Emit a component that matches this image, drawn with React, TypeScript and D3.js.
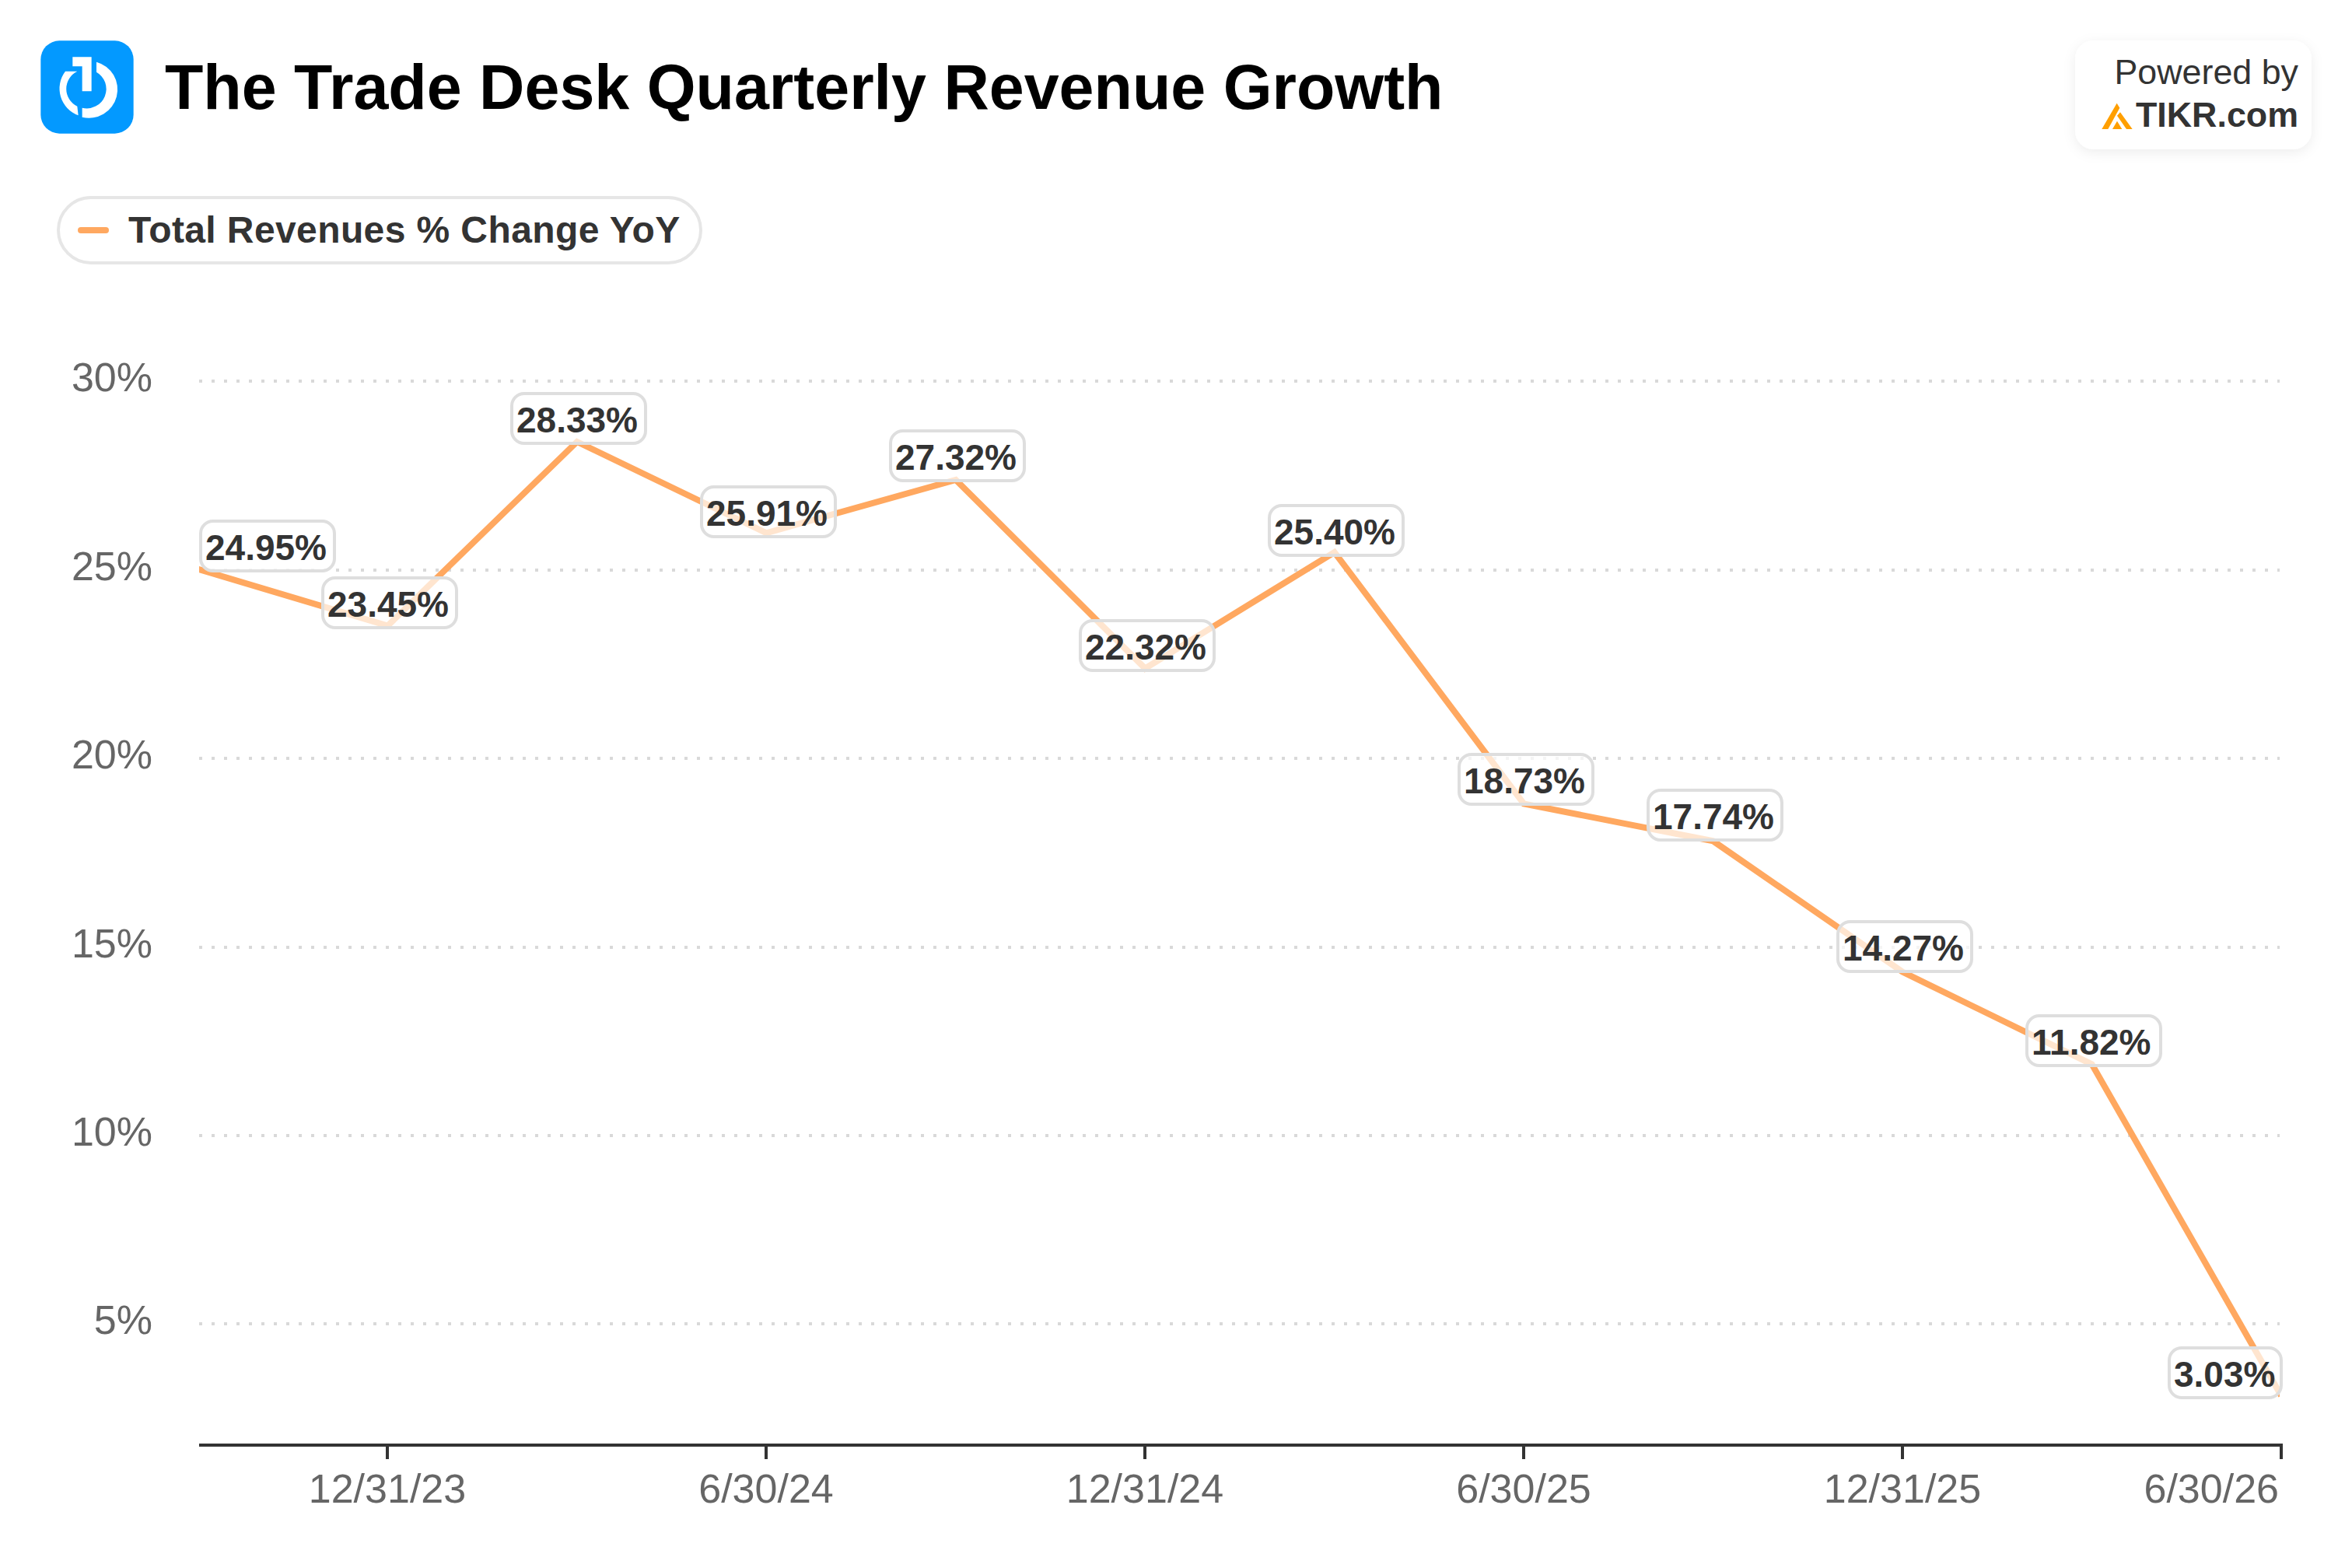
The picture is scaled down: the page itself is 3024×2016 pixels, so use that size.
import React from "react";
import * as d3 from "d3";

const title = "The Trade Desk Quarterly Revenue Growth";
const seriesName = "Total Revenues % Change YoY";
const periods = ["9/30/23","12/31/23","3/31/24","6/30/24","9/30/24","12/31/24","3/31/25","6/30/25","9/30/25","12/31/25","3/31/26","6/30/26"];
const growth = [24.95,23.45,28.33,25.91,27.32,22.32,25.40,18.73,17.74,14.27,11.82,3.03];
const xTicks = ["12/31/23","6/30/24","12/31/24","6/30/25","12/31/25","6/30/26"];
const yTicks = [5,10,15,20,25,30];
const labelNudge = [0,0,0,3,-1,1,2,-1,-3,-3,0,0];

const FONT = '"Liberation Sans", Arial, sans-serif';
const ORANGE = "#ffa860";

const x = d3.scalePoint<string>().domain(periods).range([255, 2933]);
const yGrid = d3.scaleLinear().domain([5, 30]).range([1702, 490]);
const yLine = d3.scaleLinear().domain([5, 30]).range([1699, 487]);
const lineGen = d3.line<number>().x((_, i) => x(periods[i])!).y((d) => yLine(d));

function Logo() {
  return (
    <g transform="translate(40,40) scale(0.3333)">
      <rect x="37" y="37" width="358" height="358" rx="72" fill="#0399ff" />
      <path fill="#fff" d="M160 100H233V232H197V136H160Z" />
      <path fill="#fff" d="M252 119A110 110 0 0 1 197 332V296A75 75 0 0 0 252 158Z" />
      <path fill="#fff" d="M178 155L132 155A110 110 0 0 0 182 325L178 290A75 75 0 0 1 178 155Z" />
    </g>
  );
}

function TikrMark() {
  return (
    <g transform="translate(2600,0) scale(0.3333)" fill="#ff9f00">
      <path d="M307 498L365 398L376 416L331 498Z" />
      <path d="M378 433L425 498H402L366 446Z" />
      <path d="M348 498L366 467L385 498Z" />
    </g>
  );
}

export default function App() {
  return (
    <svg width={3024} height={2016} viewBox="0 0 3024 2016" style={{ position: "absolute", left: 0, top: 0, background: "#fff" }} fontFamily={FONT}>
      <defs>
        <clipPath id="plot"><rect x={256} y={400} width={2675} height={1456} /></clipPath>
        <filter id="soft" x="-20%" y="-20%" width="140%" height="150%">
          <feDropShadow dx="0" dy="4" stdDeviation="8" floodColor="#000" floodOpacity="0.07" />
        </filter>
      </defs>
      <rect width={3024} height={2016} fill="#fff" />
      <Logo />
      <text x={212} y={140} fontSize={80.8} fontWeight="bold" fill="#000">{title}</text>

      <rect x={2668} y={52} width={304} height={140} rx={24} fill="#fff" filter="url(#soft)" />
      <text x={2955} y={108} fontSize={44.8} fill="#333" textAnchor="end">Powered by</text>
      <text x={2955} y={163} fontSize={44.8} fontWeight="bold" fill="#333" textAnchor="end">TIKR.com</text>
      <TikrMark />

      <rect x={75} y={254} width={826} height={84} rx={42} fill="#fff" stroke="#e6e6e6" strokeWidth={4} />
      <rect x={100} y={292} width={40} height={8} rx={4} fill={ORANGE} />
      <text x={165} y={312} fontSize={48} letterSpacing={0.4} fontWeight="bold" fill="#333">{seriesName}</text>

      {yTicks.map((t) => {
        const gy = Math.ceil(yGrid(t));
        return (
          <g key={t}>
            <line x1={256} x2={2931} y1={gy} y2={gy} stroke="#d9d9d9" strokeWidth={4} strokeDasharray="4 12" />
            <text x={196} y={gy + 13} fontSize={52} fill="#666" textAnchor="end">{t}%</text>
          </g>
        );
      })}

      <path d={lineGen(growth)!} fill="none" stroke={ORANGE} strokeWidth={8} strokeLinejoin="miter" clipPath="url(#plot)" />

      <line x1={256} x2={2935} y1={1858} y2={1858} stroke="#333" strokeWidth={4} />
      {xTicks.map((t, i) => {
        const px = Math.round(x(t)!);
        const last = i === xTicks.length - 1;
        return (
          <g key={t}>
            <line x1={px} x2={px} y1={1858} y2={1876} stroke="#333" strokeWidth={4} />
            <text x={last ? px - 3 : px} y={1932} fontSize={52} fill="#666" textAnchor={last ? "end" : "middle"}>{t}</text>
          </g>
        );
      })}

      {growth.map((v, i) => {
        const label = `${v.toFixed(2)}%`;
        const w = 28 * label.length + 8;
        const h = 68;
        const left = Math.round(Math.min(Math.max(x(periods[i])! + 2.5 - w / 2, 256), 2935 - w));
        const bottom = Math.round(yGrid(v)) + 1 + labelNudge[i];
        return (
          <g key={periods[i]}>
            <rect x={left + 2} y={bottom - h + 2} width={w - 4} height={h - 4} rx={16} fill="#fff" fillOpacity={0.7} stroke="#dedede" strokeWidth={4} />
            <text x={left + 8} y={bottom - 16} fontSize={46} fontWeight="bold" fill="#333">{label}</text>
          </g>
        );
      })}
    </svg>
  );
}
